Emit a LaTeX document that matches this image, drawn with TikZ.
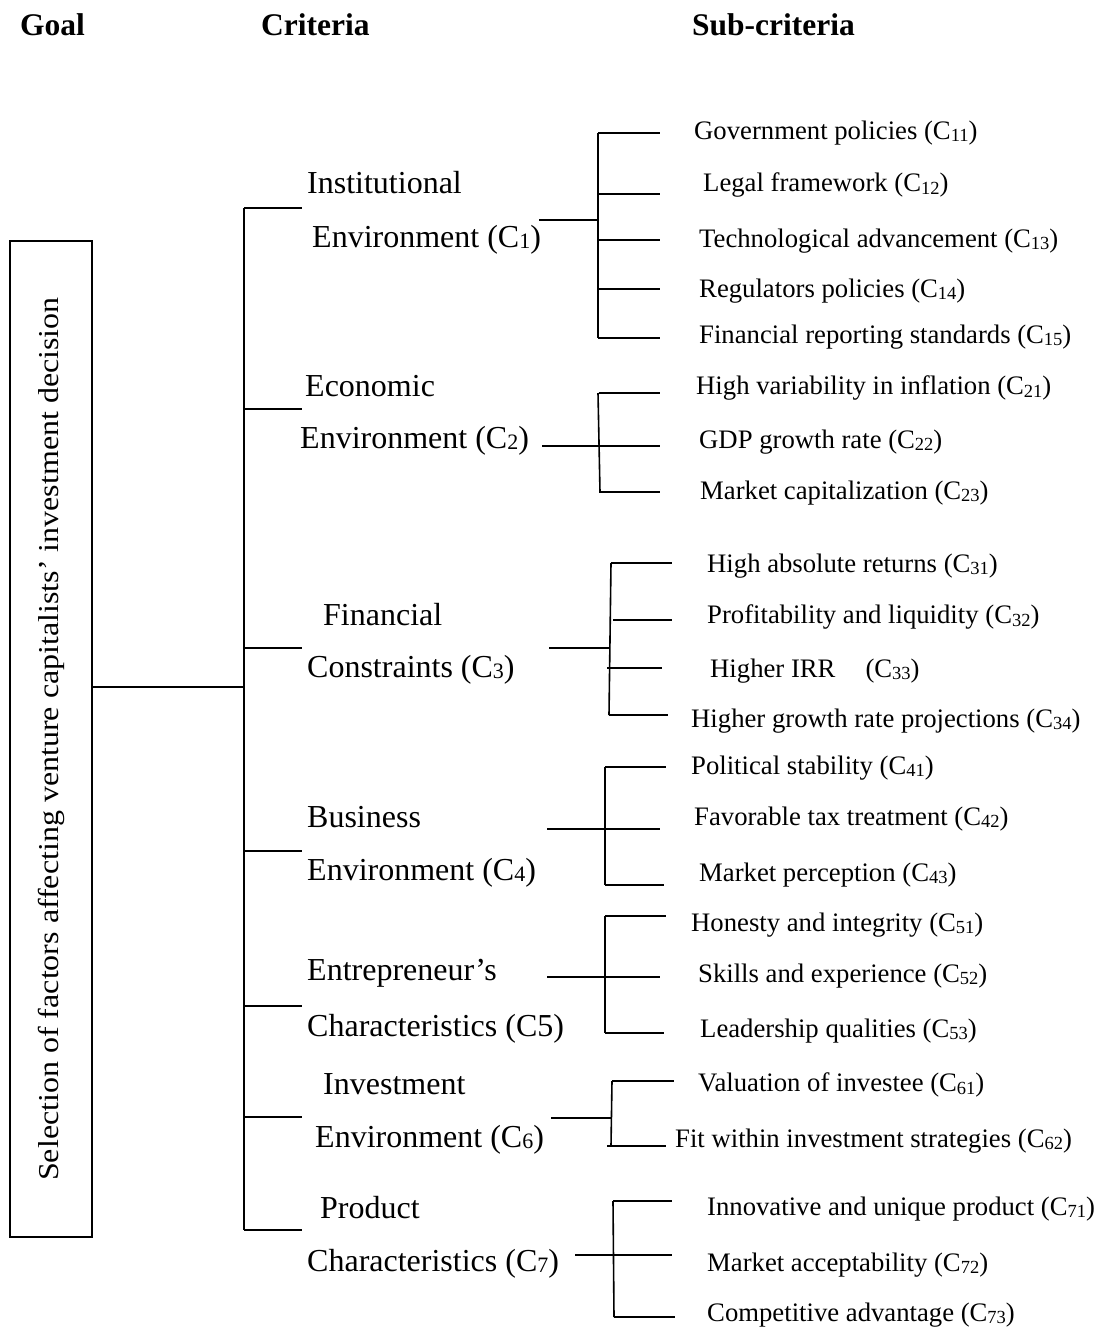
\documentclass[tikz,border=0pt]{standalone}
\usepackage{fontspec}
\setmainfont{Liberation Serif}
\usepackage{graphicx}

% small index digits: near the baseline for criteria, lowered for sub-criteria
\newcommand\cidx[1]{\raisebox{-1pt}{\fontsize{22}{22}\selectfont #1}}
\newcommand\sidx[1]{\raisebox{-2.5pt}{\fontsize{18.5}{18.5}\selectfont #1}}

\begin{document}
\begin{tikzpicture}[x=1pt,y=-1pt,
  head/.style={anchor=west, inner sep=0pt, font=\fontsize{31.5}{34}\selectfont\bfseries},
  crit/.style={anchor=west, inner sep=0pt, font=\fontsize{32}{36}\selectfont},
  subc/.style={anchor=west, inner sep=0pt, font=\fontsize{26.7}{30}\selectfont},
  goalbox/.style={draw, line width=1.6pt, inner sep=0pt, minimum width=82pt, minimum height=996pt},
  wire/.style={draw, line width=1.6pt}]

\useasboundingbox (0,0) rectangle (1102,1331);

% column headings
\node[head] (hgoal) at (20,25) {Goal};
\node[head] (hcrit) at (261,25) {Criteria};
\node[head] (hsub)  at (692,25) {Sub-criteria};

% goal
\node[goalbox] (goal) at (51,739)
  {\rotatebox{90}{\scalebox{1}[0.9]{\fontsize{32}{36}\selectfont Selection of factors affecting venture capitalists’ investment decision}}};

% criteria
\node[crit] (c1a) at (307,183)  {Institutional};
\node[crit] (c1b) at (312,240)  {Environment (C\cidx{1})};
\node[crit] (c2a) at (305,386)  {Economic};
\node[crit] (c2b) at (300,441)  {Environment (C\cidx{2})};
\node[crit] (c3a) at (323,615)  {Financial};
\node[crit] (c3b) at (307,670)  {Constraints (C\cidx{3})};
\node[crit] (c4a) at (307,817)  {Business};
\node[crit] (c4b) at (307,873)  {Environment (C\cidx{4})};
\node[crit] (c5a) at (307,973)  {Entrepreneur’s};
\node[crit] (c5b) at (307,1029) {Characteristics (C5)};
\node[crit] (c6a) at (323,1084) {Investment};
\node[crit] (c6b) at (315,1140) {Environment (C\cidx{6})};
\node[crit] (c7a) at (320,1208) {Product};
\node[crit] (c7b) at (307,1264) {Characteristics (C\cidx{7})};

% sub-criteria
\node[subc] (s11) at (694,133)  {Government policies (C\sidx{11})};
\node[subc] (s12) at (703,185)  {Legal framework (C\sidx{12})};
\node[subc] (s13) at (699,241)  {Technological advancement (C\sidx{13})};
\node[subc] (s14) at (699,291)  {Regulators policies (C\sidx{14})};
\node[subc] (s15) at (699,337)  {Financial reporting standards (C\sidx{15})};
\node[subc] (s21) at (696,388)  {High variability in inflation (C\sidx{21})};
\node[subc] (s22) at (699,442)  {GDP growth rate (C\sidx{22})};
\node[subc] (s23) at (700,493)  {Market capitalization (C\sidx{23})};
\node[subc] (s31) at (707,566)  {High absolute returns (C\sidx{31})};
\node[subc] (s32) at (707,617)  {Profitability and liquidity (C\sidx{32})};
\node[subc] (s33) at (710,671)  {Higher IRR\hspace*{30pt}(C\sidx{33})};
\node[subc] (s34) at (691,721)  {Higher growth rate projections (C\sidx{34})};
\node[subc] (s41) at (691,768)  {Political stability (C\sidx{41})};
\node[subc] (s42) at (694,819)  {Favorable tax treatment (C\sidx{42})};
\node[subc] (s43) at (699,875)  {Market perception (C\sidx{43})};
\node[subc] (s51) at (691,925)  {Honesty and integrity (C\sidx{51})};
\node[subc] (s52) at (698,976)  {Skills and experience (C\sidx{52})};
\node[subc] (s53) at (700,1031) {Leadership qualities (C\sidx{53})};
\node[subc] (s61) at (698,1085) {Valuation of investee (C\sidx{61})};
\node[subc] (s62) at (675,1141) {Fit within investment strategies (C\sidx{62})};
\node[subc] (s71) at (707,1209) {Innovative and unique product (C\sidx{71})};
\node[subc] (s72) at (707,1265) {Market acceptability (C\sidx{72})};
\node[subc] (s73) at (707,1315) {Competitive advantage (C\sidx{73})};

% goal to criteria trunk
\coordinate (hub) at (244,687);
\draw[wire] (goal.east |- hub) -- (hub);
\coordinate (ttop) at (244,208);
\coordinate (tbot) at (244,1230);
\draw[wire] (ttop) -- (tbot);
\foreach \i/\y in {1/208,2/409,3/648,4/851,5/1006,6/1117,7/1230} {
  \coordinate (tb\i) at (244,\y);
  \coordinate (te\i) at (302,\y);
  \draw[wire] (tb\i) -- (te\i);
}

% group 1
\coordinate (g1s) at (539,220); \coordinate (g1j) at (598,220);
\draw[wire] (g1s) -- (g1j);
\coordinate (g1t) at (598,133); \coordinate (g1b) at (598,338);
\draw[wire] (g1t) -- (g1b);
\foreach \i/\y in {1/133,2/194,3/240,4/289,5/338} {
  \coordinate (k1\i) at (598,\y); \coordinate (l1\i) at (660,\y);
  \draw[wire] (k1\i) -- (l1\i);
}

% group 2
\coordinate (g2s) at (542,446); \coordinate (g2j) at (599,446);
\draw[wire] (g2s) -- (g2j);
\coordinate (g2t) at (598,393); \coordinate (g2b) at (600,492);
\draw[wire] (g2t) -- (g2b);
\foreach \i/\y in {1/393,2/446,3/492} {
  \coordinate (k2\i) at (599,\y); \coordinate (l2\i) at (660,\y);
  \draw[wire] (k2\i) -- (l2\i);
}

% group 3
\coordinate (g3s) at (549,648); \coordinate (g3j) at (610,648);
\draw[wire] (g3s) -- (g3j);
\coordinate (g3t) at (611,563); \coordinate (g3b) at (609,715);
\draw[wire] (g3t) -- (g3b);
\coordinate (k31) at (611,563); \coordinate (l31) at (672,563);
\coordinate (k32) at (613,620); \coordinate (l32) at (672,620);
\coordinate (k33) at (607,668); \coordinate (l33) at (662,668);
\coordinate (k34) at (609,715); \coordinate (l34) at (668,715);
\foreach \i in {1,2,3,4} { \draw[wire] (k3\i) -- (l3\i); }

% group 4
\coordinate (g4s) at (547,829); \coordinate (l42) at (660,829);
\draw[wire] (g4s) -- (l42);
\coordinate (g4t) at (605,767); \coordinate (g4b) at (605,885);
\draw[wire] (g4t) -- (g4b);
\coordinate (l41) at (666,767); \coordinate (l43) at (664,885);
\draw[wire] (g4t) -- (l41);
\draw[wire] (g4b) -- (l43);

% group 5
\coordinate (g5s) at (547,977); \coordinate (l52) at (660,977);
\draw[wire] (g5s) -- (l52);
\coordinate (g5t) at (605,916); \coordinate (g5b) at (605,1033);
\draw[wire] (g5t) -- (g5b);
\coordinate (l51) at (666,916); \coordinate (l53) at (664,1033);
\draw[wire] (g5t) -- (l51);
\draw[wire] (g5b) -- (l53);

% group 6
\coordinate (g6s) at (551,1118); \coordinate (g6j) at (611,1118);
\draw[wire] (g6s) -- (g6j);
\coordinate (g6t) at (612,1081); \coordinate (g6b) at (611,1146);
\draw[wire] (g6t) -- (g6b);
\coordinate (l61) at (674,1081);
\draw[wire] (g6t) -- (l61);
\coordinate (k62) at (607,1146); \coordinate (l62) at (666,1146);
\draw[wire] (k62) -- (l62);

% group 7
\coordinate (g7s) at (575,1255); \coordinate (l72) at (672,1255);
\draw[wire] (g7s) -- (l72);
\coordinate (g7t) at (613,1201); \coordinate (g7b) at (614,1317);
\draw[wire] (g7t) -- (g7b);
\coordinate (l71) at (672,1201); \coordinate (l73) at (675,1317);
\draw[wire] (g7t) -- (l71);
\draw[wire] (g7b) -- (l73);

\end{tikzpicture}
\end{document}
